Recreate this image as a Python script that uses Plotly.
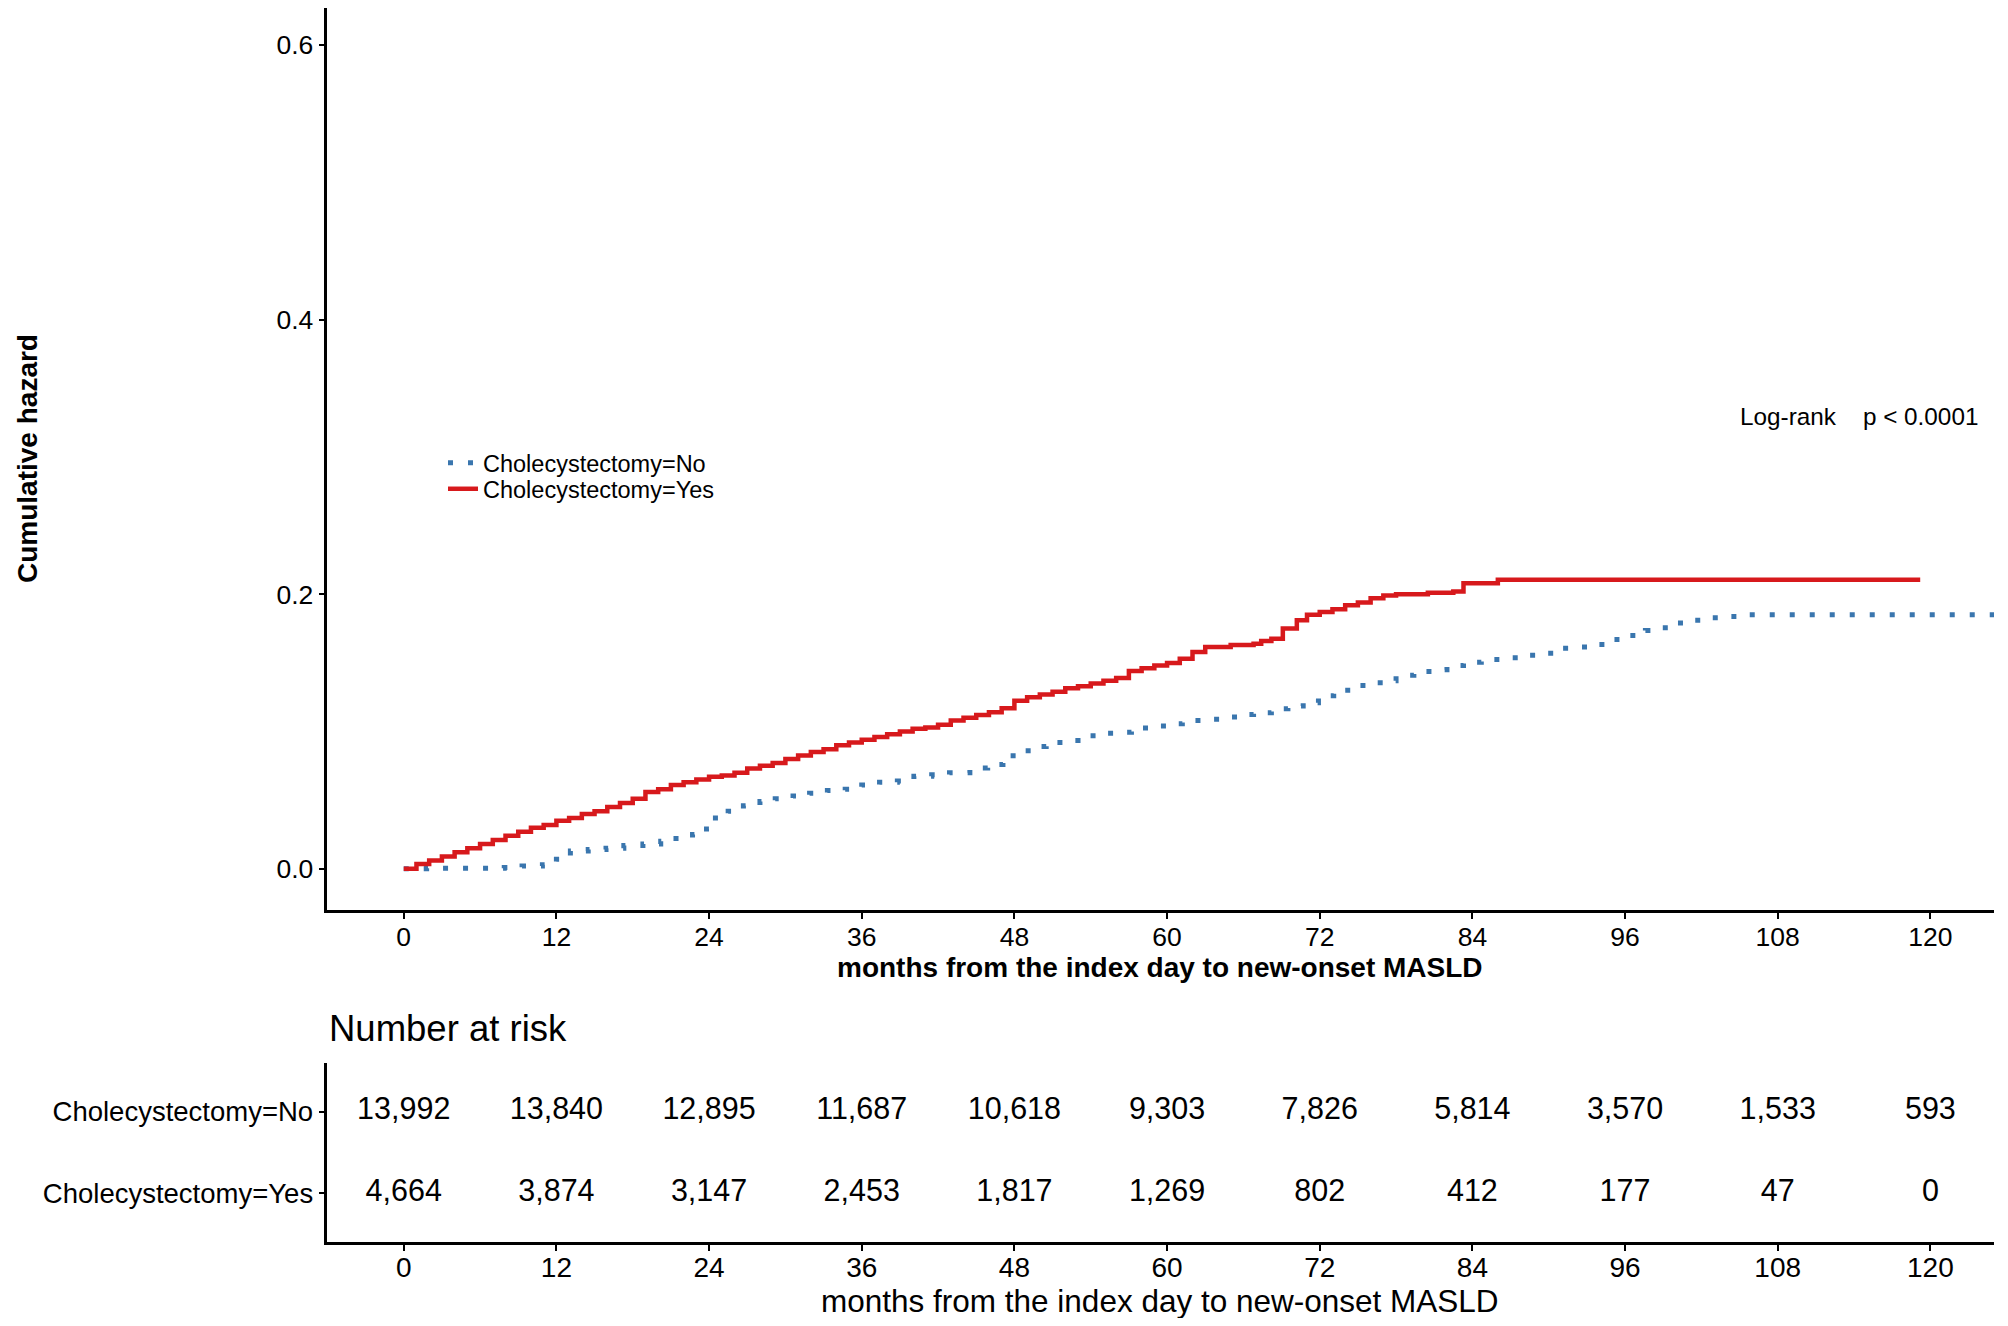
import plotly.graph_objects as go

# ---------------- data ----------------
no_months = [0, 1.8, 7.9, 9.3, 10.9, 12.0, 13.1, 14.5, 15.9, 17.3, 18.8, 20.2, 21.4, 22.7, 23.8,
             24.5, 25.5, 26.7, 28.0, 29.2, 30.6, 31.9, 33.3, 34.7, 36.0, 37.4, 38.8, 40.1, 41.5,
             42.9, 44.5, 45.9, 47.1, 47.9, 49.3, 50.5, 51.8, 53.0, 54.5, 55.9, 57.2, 58.6, 60.0,
             61.2, 62.8, 64.2, 65.6, 66.8, 68.2, 69.5, 70.7, 71.9, 73.1, 74.2, 75.6, 77.0, 78.0,
             79.4, 80.8, 82.0, 83.3, 84.7, 85.6, 87.1, 88.4, 89.9, 91.0, 92.6, 93.9, 95.1, 96.3,
             97.6, 98.9, 99.9, 101.4, 102.7, 104.2, 105.6, 125.0]
no_hazard = [0, 0.0005, 0.001, 0.002, 0.003, 0.007, 0.013, 0.014, 0.015, 0.017, 0.018, 0.020, 0.022,
             0.025, 0.029, 0.037, 0.042, 0.046, 0.049, 0.051, 0.053, 0.055, 0.057, 0.058, 0.061,
             0.063, 0.064, 0.0675, 0.0685, 0.070, 0.0735, 0.076, 0.0805, 0.086, 0.089, 0.092,
             0.0935, 0.097, 0.0988, 0.0995, 0.1025, 0.104, 0.1056, 0.108, 0.109, 0.1105, 0.1124,
             0.1136, 0.1165, 0.1185, 0.121, 0.126, 0.130, 0.1335, 0.1355, 0.137, 0.141, 0.1437,
             0.145, 0.148, 0.1505, 0.152, 0.1525, 0.1537, 0.1556, 0.157, 0.1607, 0.1615, 0.1634,
             0.167, 0.170, 0.1736, 0.1755, 0.179, 0.181, 0.1828, 0.1838, 0.185, 0.185]

yes_months = [0, 1, 2, 3, 4, 5, 6, 7, 8, 9, 10, 11, 12, 13, 14, 15, 16, 17, 18, 19, 20, 21, 22, 23,
              24, 25, 26, 27, 28, 29, 30, 31, 32, 33, 34, 35, 36, 37, 38, 39, 40, 41, 42, 43, 44,
              45, 46, 47, 48, 49, 50, 51, 52, 53, 54, 55, 56, 57, 58, 59, 60, 61, 62, 63, 65,
              66.8, 67.4, 68.2, 69.1, 70.2, 71, 72, 73, 74, 75, 76, 77, 78, 80.5, 82.5, 83.3, 86,
              119.2]
yes_hazard = [0, 0.0035, 0.006, 0.009, 0.012, 0.015, 0.018, 0.021, 0.024, 0.027, 0.030, 0.032,
              0.035, 0.037, 0.040, 0.042, 0.045, 0.048, 0.051, 0.056, 0.058, 0.061, 0.063, 0.065,
              0.067, 0.068, 0.070, 0.073, 0.075, 0.077, 0.080, 0.0825, 0.085, 0.087, 0.090, 0.092,
              0.094, 0.096, 0.098, 0.100, 0.102, 0.103, 0.105, 0.108, 0.110, 0.112, 0.114, 0.117,
              0.1225, 0.125, 0.127, 0.129, 0.1315, 0.133, 0.135, 0.137, 0.139, 0.144, 0.146, 0.148,
              0.150, 0.153, 0.158, 0.1615, 0.163, 0.164, 0.166, 0.1675, 0.175, 0.181, 0.185, 0.187,
              0.189, 0.192, 0.194, 0.197, 0.199, 0.200, 0.201, 0.202, 0.208, 0.2105, 0.2105]

risk_times = [0, 12, 24, 36, 48, 60, 72, 84, 96, 108, 120]
risk_no = [13992, 13840, 12895, 11687, 10618, 9303, 7826, 5814, 3570, 1533, 593]
risk_yes = [4664, 3874, 3147, 2453, 1817, 1269, 802, 412, 177, 47, 0]

group_labels = ["Cholecystectomy=No", "Cholecystectomy=Yes"]
x_title = "months from the index day to new-onset MASLD"
y_title = "Cumulative hazard"
pval_text = "Log-rank\u00a0\u00a0\u00a0\u00a0p < 0.0001"
risk_title = "Number at risk"

# ---------------- style ----------------
# page has an 8px body margin, so the figure is 16px smaller than the window
W, H = 1992, 1310
FONT = "Liberation Sans, Arial, Helvetica, sans-serif"
BLUE = "#3A76AE"
RED = "#D7191C"


def px(x):
    return x / W


def py(y):
    return 1 - y / H


fig = go.Figure()

fig.add_trace(go.Scatter(
    x=no_months, y=no_hazard, mode="lines", name=group_labels[0], legend="legend",
    line=dict(color=BLUE, width=5, dash="5px,15px", shape="hv"),
    xaxis="x", yaxis="y"))
fig.add_trace(go.Scatter(
    x=yes_months, y=yes_hazard, mode="lines", name=group_labels[1], legend="legend2",
    line=dict(color=RED, width=4.5, shape="hv"),
    xaxis="x", yaxis="y"))

risk_font = dict(size=30.5, color="black", family=FONT)
fig.add_trace(go.Scatter(
    x=risk_times, y=[2] * len(risk_times), mode="text",
    text=[f"{v:,}" for v in risk_no], textfont=risk_font,
    showlegend=False, xaxis="x2", yaxis="y2", hoverinfo="skip"))
fig.add_trace(go.Scatter(
    x=risk_times, y=[1] * len(risk_times), mode="text",
    text=[f"{v:,}" for v in risk_yes], textfont=risk_font,
    showlegend=False, xaxis="x2", yaxis="y2", hoverinfo="skip"))

axis_common = dict(showgrid=False, zeroline=False, showline=True, linecolor="black",
                   linewidth=2.5, ticks="outside", ticklen=6, tickwidth=2, tickcolor="black")

xdom = [px(319.4), px(1986)]

legend_common = dict(xanchor="left", yanchor="top", font=dict(size=23.5, family=FONT),
                     bgcolor="rgba(0,0,0,0)", itemwidth=30)

fig.update_layout(
    width=W, height=H,
    margin=dict(l=0, r=0, t=0, b=0),
    paper_bgcolor="white", plot_bgcolor="white",
    font=dict(family=FONT, color="black"),
    xaxis=dict(domain=xdom, range=[-6, 125], tickvals=risk_times,
               tickfont=dict(size=26.5), ticklabelstandoff=-5, anchor="y", **axis_common),
    yaxis=dict(domain=[py(902), 1.0], range=[-0.03, 0.627], tickvals=[0, 0.2, 0.4, 0.6],
               tickformat=".1f", tickfont=dict(size=26.5), anchor="x", **axis_common),
    xaxis2=dict(domain=xdom, range=[-6, 125], tickvals=risk_times,
                tickfont=dict(size=28), ticklabelstandoff=-7, anchor="y2", **axis_common),
    yaxis2=dict(domain=[py(1234), py(1055)], range=[0.4, 2.6], tickvals=[2, 1],
                ticktext=group_labels, tickfont=dict(size=27.5), anchor="x2", **axis_common),
    legend=dict(x=px(435), y=py(433), **legend_common),
    legend2=dict(x=px(435), y=py(459), **legend_common),
    showlegend=True,
)

annotations = [
    dict(text=f"<b>{x_title}</b>", x=px(1152), y=py(959), xref="paper", yref="paper",
         showarrow=False, font=dict(size=28), xanchor="center", yanchor="middle"),
    dict(text=f"<b>{y_title}</b>", x=px(19), y=py(451), xref="paper", yref="paper",
         showarrow=False, font=dict(size=28), textangle=-90, xanchor="center", yanchor="middle"),
    dict(text=pval_text, x=px(1730), y=py(408), xref="paper", yref="paper",
         showarrow=False, font=dict(size=24.3), xanchor="left", yanchor="middle"),
    dict(text=risk_title, x=px(319), y=py(1020), xref="paper", yref="paper",
         showarrow=False, font=dict(size=36.5), xanchor="left", yanchor="middle"),
    dict(text=x_title, x=px(1152), y=py(1293), xref="paper", yref="paper",
         showarrow=False, font=dict(size=31.5), xanchor="center", yanchor="middle"),
]
fig.update_layout(annotations=annotations)

fig.write_html("out.html")
